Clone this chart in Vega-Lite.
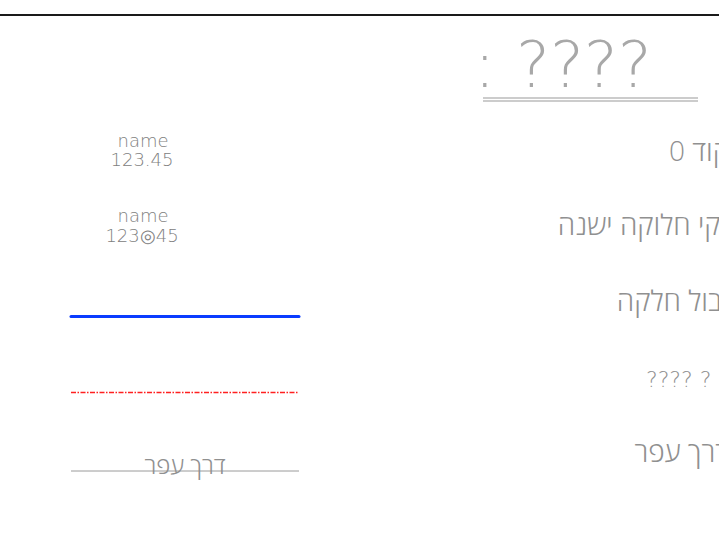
{
  "$schema": "https://vega.github.io/schema/vega-lite/v6.json",
  "width": 719,
  "height": 543,
  "padding": 0,
  "autosize": {"type": "none"},
  "background": "white",
  "config": {"view": {"stroke": null}},
  "encoding": {
    "x": {"field": "x", "type": "quantitative", "axis": null, "scale": {"domain": [0, 719], "nice": false, "zero": false}},
    "y": {"field": "y", "type": "quantitative", "axis": null, "scale": {"domain": [543, 0], "nice": false, "zero": false}}
  },
  "layer": [
    {
      "data": {"values": [{"x": 0, "x2": 719, "y": 15}]},
      "mark": {"type": "rule", "color": "#1a1a1a", "strokeWidth": 2},
      "encoding": {"x2": {"field": "x2"}}
    },
    {
      "data": {"values": [{"x": 483, "x2": 698, "y": 98}, {"x": 483, "x2": 698, "y": 101}]},
      "mark": {"type": "rule", "color": "#9a9a9a", "strokeWidth": 1.2},
      "encoding": {"x2": {"field": "x2"}}
    },
    {
      "data": {"values": [{"x": 71, "x2": 299, "y": 316.5}]},
      "mark": {"type": "rule", "color": "#0a3cff", "strokeWidth": 3, "strokeCap": "round"},
      "encoding": {"x2": {"field": "x2"}}
    },
    {
      "data": {"values": [{"x": 71, "x2": 299, "y": 392.5}]},
      "mark": {"type": "rule", "color": "#ff2020", "strokeWidth": 1.5, "strokeDash": [5, 1.5, 1.5, 1.5]},
      "encoding": {"x2": {"field": "x2"}}
    },
    {
      "data": {"values": [{"x": 71, "x2": 299, "y": 471}]},
      "mark": {"type": "rule", "color": "#9a9a9a", "strokeWidth": 1},
      "encoding": {"x2": {"field": "x2"}}
    },
    {
      "data": {"values": [{"x": 474, "y": 87, "label": ": ????"}]},
      "mark": {"type": "text", "align": "left", "baseline": "alphabetic", "font": "DejaVu Sans", "fontWeight": 200, "fontSize": 64, "color": "#a8a8a8", "clip": true},
      "encoding": {"text": {"field": "label"}}
    },
    {
      "data": {"values": [
        {"x": 143, "y": 147, "label": "name"},
        {"x": 142, "y": 166, "label": "123.45"},
        {"x": 143, "y": 222, "label": "name"},
        {"x": 142, "y": 242, "label": "123◎45"}
      ]},
      "mark": {"type": "text", "align": "center", "baseline": "alphabetic", "font": "DejaVu Sans", "fontWeight": 200, "fontSize": 18, "color": "#808080"},
      "encoding": {"text": {"field": "label"}}
    },
    {
      "data": {"values": [{"x": 185, "y": 474, "label": "דרך עפר"}]},
      "mark": {"type": "text", "align": "center", "baseline": "alphabetic", "font": "Open Sans", "fontWeight": 300, "fontSize": 24, "color": "#909090"},
      "encoding": {"text": {"field": "label"}}
    },
    {
      "data": {"values": [
        {"x": 729, "y": 161, "label": "קוד 0"},
        {"x": 751, "y": 235, "label": "חלקי חלוקה ישנה"},
        {"x": 733, "y": 311, "label": "גבול חלקה"},
        {"x": 729, "y": 462, "label": "דרך עפר"}
      ]},
      "mark": {"type": "text", "align": "right", "baseline": "alphabetic", "font": "Open Sans", "fontWeight": 300, "fontSize": 28, "color": "#909090", "clip": true},
      "encoding": {"text": {"field": "label"}}
    },
    {
      "data": {"values": [{"x": 646, "y": 387, "label": "???? ?"}]},
      "mark": {"type": "text", "align": "left", "baseline": "alphabetic", "font": "DejaVu Sans", "fontWeight": 200, "fontSize": 22, "color": "#909090", "clip": true},
      "encoding": {"text": {"field": "label"}}
    }
  ]
}
